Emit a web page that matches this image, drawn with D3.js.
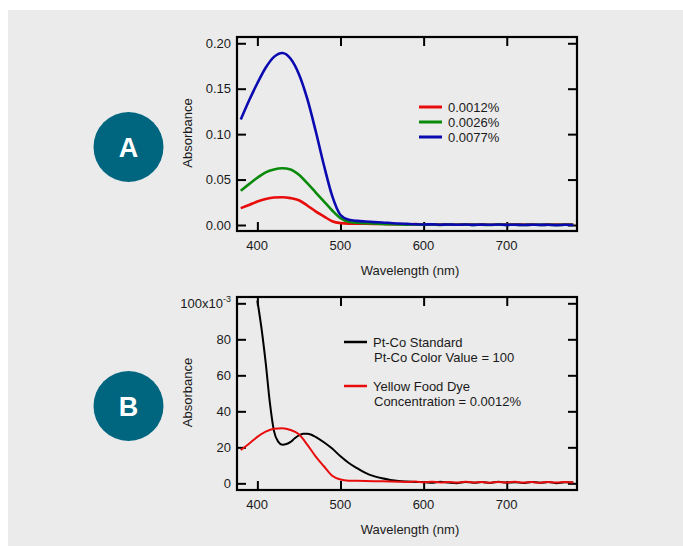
<!DOCTYPE html>
<html lang="en">
<head>
<meta charset="utf-8">
<title>Absorbance spectra</title>
<script src="https://cdnjs.cloudflare.com/ajax/libs/d3/7.8.5/d3.min.js"></script>
<style>
  body { margin: 0; background: #fff; }
  svg { font-family: "Liberation Sans", Arial, sans-serif; display: block; }
  .tick text { font-size: 13px; fill: #1a1a1a; }
</style>
</head>
<body>
<svg width="683" height="546"></svg>
<script>

// wavelengths (nm) for the food dye spectra
var wlDye = [380, 390, 400, 410, 420, 430, 440, 450, 460, 470, 480, 490, 500, 510, 520, 530, 540, 550, 560, 570,
             580, 590, 600, 610, 620, 630, 640, 650, 660, 670, 680, 690, 700, 710, 720, 730, 740, 750, 760, 770, 780];

// absorbance, yellow food dye at three concentrations
var dye0012 = [0.0185, 0.0220, 0.0258, 0.0287, 0.0303, 0.0306, 0.0296, 0.0272, 0.0215, 0.0150, 0.0095, 0.0042, 0.0021, 0.0015, 0.0014, 0.0013, 0.0012, 0.0011, 0.0010, 0.0009,
               0.0008, 0.0010, 0.0006, 0.0009, 0.0005, 0.0008, 0.0004, 0.0009, 0.0005, 0.0007, 0.0003, 0.0008, 0.0005, 0.0009, 0.0004, 0.0007, 0.0003, 0.0008, 0.0004, 0.0007, 0.0005];
var dye0026 = [0.0378, 0.0450, 0.0520, 0.0580, 0.0612, 0.0624, 0.0610, 0.0552, 0.0460, 0.0360, 0.0260, 0.0160, 0.0075, 0.0035, 0.0025, 0.0020, 0.0016, 0.0012, 0.0009, 0.0006,
               0.0004, 0.0006, 0.0002, 0.0005, 0.0001, 0.0004, 0.0002, 0.0005, 0.0001, 0.0003, 0.0000, 0.0004, 0.0001, 0.0003, 0.0000, 0.0003, 0.0001, 0.0002, 0.0000, 0.0002, 0.0001];
var dye0077 = [0.1160, 0.1370, 0.1560, 0.1730, 0.1850, 0.1893, 0.1830, 0.1660, 0.1390, 0.1040, 0.0660, 0.0320, 0.0110, 0.0058, 0.0045, 0.0038, 0.0032, 0.0028, 0.0022, 0.0016,
               0.0012, 0.0008, 0.0006, 0.0007, 0.0003, 0.0006, 0.0002, 0.0005, 0.0001, 0.0004, 0.0002, 0.0005, 0.0001, 0.0003, 0.0000, 0.0003, 0.0001, 0.0002, -0.0001, 0.0002, 0.0000];

// Pt-Co standard (absorbance)
var wlPtCo = [400, 405, 410, 415, 420, 425, 430, 435, 440, 445, 450, 455, 460, 465, 470, 480, 490, 500, 510, 520, 530, 540, 550, 560, 570,
              580, 590, 600, 610, 620, 630, 640, 650, 660, 670, 680, 690, 700, 710, 720, 730, 740, 750, 760, 770, 780];
var ptco = [0.1015, 0.0860, 0.0670, 0.0450, 0.0290, 0.0232, 0.0215, 0.0218, 0.0230, 0.0250, 0.0266, 0.0275, 0.0276, 0.0270, 0.0258, 0.0228, 0.0193, 0.0150, 0.0113, 0.0084, 0.0058, 0.0040, 0.0028, 0.0019, 0.0013,
            0.0010, 0.0008, 0.0007, 0.0003, 0.0009, 0.0004, 0.0001, 0.0008, 0.0003, 0.0007, 0.0002, 0.0009, 0.0004, 0.0006, 0.0002, 0.0008, 0.0003, 0.0007, 0.0001, 0.0006, 0.0004];

var xTicks = [400, 500, 600, 700];
var yTicksA = [0, 0.05, 0.10, 0.15, 0.20];
var yTicksB = [0, 0.02, 0.04, 0.06, 0.08, 0.10];

var legendA = ["0.0012%", "0.0026%", "0.0077%"];
var colorsA = ["#e80c0c", "#0a8a0a", "#0a0ab0"];

var svg = d3.select("svg");

// grey panel
svg.append("rect").attr("x", 8).attr("y", 10).attr("width", 675).attr("height", 536).attr("fill", "#ebebeb");

function panel(opts) {
  var g = svg.append("g");
  var x = d3.scaleLinear().domain([375.5, 784.5]).range([opts.x0, opts.x1]);
  var y = d3.scaleLinear().domain(opts.ydom).range([opts.y1, opts.y0]);

  // clip
  g.append("clipPath").attr("id", "clip-" + opts.id)
    .append("rect").attr("x", opts.x0).attr("y", opts.y0)
    .attr("width", opts.x1 - opts.x0).attr("height", opts.y1 - opts.y0);

  // axes, ticks inside on all four sides
  var bottom = g.append("g").attr("transform", "translate(0," + opts.y1 + ")")
    .call(d3.axisBottom(x).tickValues(xTicks).tickSize(-9).tickPadding(10).tickFormat(d3.format("d")));
  var top = g.append("g").attr("transform", "translate(0," + opts.y0 + ")")
    .call(d3.axisTop(x).tickValues(xTicks).tickSize(-9).tickFormat(""));
  var left = g.append("g").attr("transform", "translate(" + opts.x0 + ",0)")
    .call(d3.axisLeft(y).tickValues(opts.yticks).tickSize(-9).tickPadding(6).tickFormat(opts.yfmt));
  var right = g.append("g").attr("transform", "translate(" + opts.x1 + ",0)")
    .call(d3.axisRight(y).tickValues(opts.yticks).tickSize(-9).tickFormat(""));
  [bottom, top, left, right].forEach(function(a) {
    a.select(".domain").remove();
    a.selectAll(".tick line").attr("stroke", "#000").attr("stroke-width", 2);
  });
  bottom.selectAll(".tick text").attr("dx", "-0.05em");

  // frame
  g.append("rect").attr("x", opts.x0).attr("y", opts.y0)
    .attr("width", opts.x1 - opts.x0).attr("height", opts.y1 - opts.y0)
    .attr("fill", "none").attr("stroke", "#000").attr("stroke-width", 2.2);

  // axis titles
  g.append("text").attr("x", (opts.x0 + opts.x1) / 2 + 3).attr("y", opts.y1 + 44)
    .attr("text-anchor", "middle").attr("font-size", 13).attr("fill", "#1a1a1a")
    .text("Wavelength (nm)");
  g.append("text")
    .attr("transform", "translate(" + 192 + "," + ((opts.y0 + opts.y1) / 2 - 1) + ") rotate(-90)")
    .attr("text-anchor", "middle").attr("font-size", 13).attr("fill", "#1a1a1a")
    .text("Absorbance");

  // label badge
  svg.append("circle").attr("cx", 128.5).attr("cy", opts.badgeY).attr("r", 35).attr("fill", "#006680");
  svg.append("text").attr("x", 128.5).attr("y", opts.badgeY).attr("dy", "0.36em")
    .attr("text-anchor", "middle").attr("font-size", 27).attr("font-weight", "bold")
    .attr("fill", "#fff").text(opts.badge);

  return { g: g, x: x, y: y, left: left };
}

function drawLine(p, id, xs, ys, color, width) {
  var line = d3.line()
    .x(function(d) { return p.x(d[0]); })
    .y(function(d) { return p.y(d[1]); })
    .curve(d3.curveMonotoneX);
  p.g.append("path")
    .datum(d3.zip(xs, ys))
    .attr("clip-path", "url(#clip-" + id + ")")
    .attr("d", line)
    .attr("fill", "none")
    .attr("stroke", color)
    .attr("stroke-width", width)
    .attr("stroke-linejoin", "round");
}

// ---- panel A ----
var pA = panel({ id: "a", x0: 237, x1: 577, y0: 37, y1: 231, ydom: [-0.0066, 0.2069],
                 yticks: yTicksA, yfmt: d3.format(".2f"), badge: "A", badgeY: 147 });
drawLine(pA, "a", wlDye, dye0012, colorsA[0], 2.6);
drawLine(pA, "a", wlDye, dye0026, colorsA[1], 2.6);
drawLine(pA, "a", wlDye, dye0077, colorsA[2], 2.6);

var legA = pA.g.selectAll(".leg").data(legendA).enter().append("g")
  .attr("transform", function(d, i) { return "translate(419," + (107 + i * 15) + ")"; });
legA.append("line").attr("x1", 0).attr("x2", 23)
  .attr("stroke", function(d, i) { return colorsA[i]; }).attr("stroke-width", 3);
legA.append("text").attr("x", 29).attr("dy", "0.36em").attr("font-size", 13).attr("fill", "#1a1a1a")
  .text(function(d) { return d; });

// ---- panel B ----
var pB = panel({ id: "b", x0: 237, x1: 577, y0: 297, y1: 490, ydom: [-0.0037, 0.1035],
                 yticks: yTicksB, yfmt: function(v) { return Math.round(v * 1000); }, badge: "B", badgeY: 406 });
drawLine(pB, "b", wlPtCo, ptco, "#000", 2);
drawLine(pB, "b", wlDye, dye0012, "#e80c0c", 2);

// top label on the left axis carries the exponent
pB.left.selectAll(".tick text").filter(function(d) { return d === 0.10; })
  .text("100x10")
  .append("tspan").attr("font-size", 9).attr("dy", "-0.7em").text("-3");

var legB = [
  { color: "#000", lines: ["Pt-Co Standard", "Pt-Co Color Value = 100"], y: 342 },
  { color: "#e80c0c", lines: ["Yellow Food Dye", "Concentration = 0.0012%"], y: 386 }
];
var lb = pB.g.selectAll(".legb").data(legB).enter().append("g")
  .attr("transform", function(d) { return "translate(344," + d.y + ")"; });
lb.append("line").attr("x1", 0).attr("x2", 23)
  .attr("stroke", function(d) { return d.color; }).attr("stroke-width", 2.5);
lb.append("text").attr("x", 29).attr("dy", "0.36em").attr("font-size", 13).attr("fill", "#1a1a1a")
  .text(function(d) { return d.lines[0]; });
lb.append("text").attr("x", 30).attr("y", 15).attr("dy", "0.36em").attr("font-size", 13).attr("fill", "#1a1a1a")
  .text(function(d) { return d.lines[1]; });

</script>
</body>
</html>
